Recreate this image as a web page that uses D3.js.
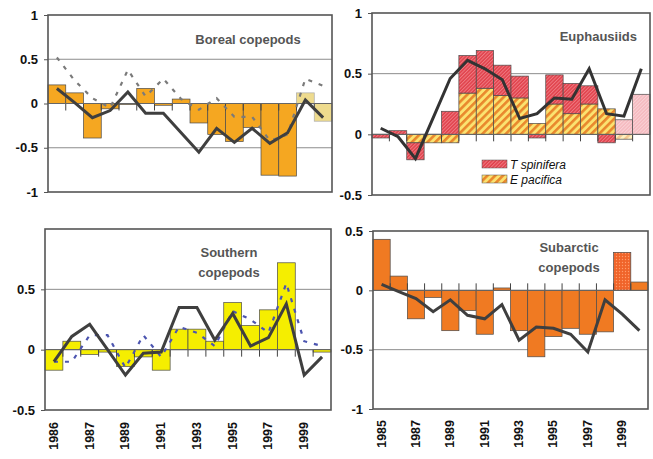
<!DOCTYPE html>
<html>
<head>
<meta charset="utf-8">
<script src="https://cdn.jsdelivr.net/npm/d3@7"></script>
<style>
body{margin:0;background:#fff;}
svg{display:block;font-family:'Liberation Sans',Arial,sans-serif;}
.yaxis text{font-weight:bold;font-size:13px;fill:#111;}
.year{font-weight:bold;font-size:12.5px;fill:#111;}
.title{font-weight:bold;font-size:13px;fill:#555;}
.legend{font-style:italic;font-size:12px;fill:#111;}
</style>
</head>
<body>
<svg width="653" height="459"></svg>
<script>
var years = [1985, 1986, 1987, 1988, 1989, 1990, 1991, 1992, 1993, 1994, 1995, 1996, 1997, 1998, 1999, 2000]

// boreal copepods
var borealBars   = [0.21, 0.12, -0.39, -0.06, -0.01, 0.17, -0.02, 0.05, -0.22, -0.35, -0.43, -0.27, -0.81, -0.82, 0.12, -0.20]
var borealLine   = [0.17, 0.01, -0.16, -0.08, 0.13, -0.11, -0.11, -0.33, -0.55, -0.28, -0.44, -0.28, -0.45, -0.33, 0.04, -0.16]
var borealDashed = [0.52, 0.26, 0.06, -0.05, 0.38, 0.08, 0.28, 0.05, -0.07, 0.06, -0.15, -0.15, -0.42, -0.35, 0.28, 0.20]

// euphausiids
var ePacifica  = [0, 0, -0.07, -0.07, -0.07, 0.34, 0.38, 0.32, 0.30, 0.09, 0.25, 0.17, 0.25, 0.21, -0.04, 0]
var tSpinifera = [-0.03, 0.03, -0.14, 0, 0.19, 0.31, 0.31, 0.25, 0.18, -0.03, 0.24, 0.25, 0.15, -0.07, 0.12, 0.33]
var euphLine   = [0.05, -0.02, -0.20, 0.13, 0.46, 0.61, 0.54, 0.45, 0.13, 0.17, 0.30, 0.29, 0.54, 0.17, 0.15, 0.54]

// southern copepods
var southBars   = [-0.17, 0.07, -0.04, -0.02, -0.14, -0.06, -0.17, 0.17, 0.17, 0.07, 0.39, 0.20, 0.33, 0.72, 0, -0.02]
var southLine   = [-0.10, 0.11, 0.21, 0.00, -0.21, -0.03, -0.02, 0.35, 0.35, 0.08, 0.30, 0.03, 0.10, 0.38, -0.21, -0.06]
var southDashed = [-0.10, -0.10, 0.12, 0.12, -0.15, 0.12, -0.06, 0.19, 0.14, 0.03, 0.32, 0.25, 0.14, 0.55, 0.07, 0.03]

// subarctic copepods
var subBars = [0.43, 0.12, -0.24, -0.06, -0.34, -0.17, -0.37, 0.02, -0.34, -0.56, -0.39, -0.32, -0.37, -0.35, 0.32, 0.07]
var subLine = [0.05, -0.01, -0.07, -0.18, -0.08, -0.21, -0.24, -0.12, -0.42, -0.31, -0.32, -0.37, -0.52, -0.08, -0.20, -0.34]

var labelYears  = [1985, 1987, 1989, 1991, 1993, 1995, 1997, 1999]
var labelsLeft  = ['1986', '1987', '1989', '1991', '1993', '1995', '1997', '1999']
var labelsRight = ['1985', '1987', '1989', '1991', '1993', '1995', '1997', '1999']

var svg = d3.select('svg')
var defs = svg.append('defs')

function stripes(id, bg, fg, w, size){
  var p = defs.append('pattern').attr('id', id).attr('patternUnits', 'userSpaceOnUse')
    .attr('width', size).attr('height', size).attr('patternTransform', 'rotate(45)')
  p.append('rect').attr('width', size).attr('height', size).attr('fill', bg)
  p.append('rect').attr('width', w).attr('height', size).attr('fill', fg)
}
stripes('tspin', '#e0414b', '#ef7a82', 1, 2.5)
stripes('tspinPale', '#f5b9bf', '#f9d2d6', 1, 2.5)
stripes('epac', '#fbe270', '#e9872c', 2.6, 5.5)
stripes('epacPale', '#fdf0c0', '#f3c890', 2.6, 5.5)

var dots = defs.append('pattern').attr('id', 'dots').attr('patternUnits', 'userSpaceOnUse')
  .attr('width', 3).attr('height', 3)
dots.append('rect').attr('width', 3).attr('height', 3).attr('fill', '#f0642a')
dots.append('circle').attr('cx', 1.5).attr('cy', 1.5).attr('r', 0.7).attr('fill', '#ff9b6a')

var late = d => d >= 1999

function panel(o){
  var x = d3.scaleBand().domain(years).range([o.left, o.right])
  var y = d3.scaleLinear().domain(o.domain).range([o.bottom, o.top])
  var cx = (d, i) => x(years[i]) + x.bandwidth()/2
  var g = svg.append('g')

  g.append('g').selectAll('line')
    .data(d3.range(o.domain[0] + 0.5, o.domain[1], 0.5))
    .join('line')
    .attr('x1', o.left).attr('x2', o.right)
    .attr('y1', d => y(d)).attr('y2', d => y(d))
    .attr('stroke', '#8c8c8c').attr('stroke-width', 1)

  // bars (single or stacked)
  o.stacks.forEach(s => {
    g.append('g').selectAll('rect')
      .data(s.values)
      .join('rect')
      .attr('x', (d, i) => x(years[i]))
      .attr('width', x.bandwidth())
      .attr('y', d => y(Math.max(d[0], d[1])))
      .attr('height', d => Math.abs(y(d[0]) - y(d[1])))
      .attr('fill', (d, i) => s.fill(years[i]))
      .attr('stroke', (d, i) => late(years[i]) && o.paleStroke ? '#aaa' : '#4a4a4a')
      .attr('stroke-width', 0.7)
      .attr('display', d => d[0] == d[1] ? 'none' : null)
  })

  // category ticks on the zero line
  g.append('g').selectAll('line')
    .data(years.slice(1))
    .join('line')
    .attr('x1', d => x(d)).attr('x2', d => x(d))
    .attr('y1', y(0)).attr('y2', y(0) + o.tickDir*7)
    .attr('stroke', '#444').attr('stroke-width', 1)
  g.append('line')
    .attr('x1', o.left).attr('x2', o.right)
    .attr('y1', y(0)).attr('y2', y(0))
    .attr('stroke', '#666').attr('stroke-width', 1)

  o.lines.forEach(l => {
    g.append('path')
      .datum(l.values)
      .attr('d', d3.line().x(cx).y(d => y(d)))
      .attr('fill', 'none')
      .attr('stroke', l.color)
      .attr('stroke-width', l.width)
      .attr('stroke-dasharray', l.dash)
      .attr('stroke-linejoin', 'miter')
  })

  g.append('rect')
    .attr('x', o.left).attr('y', o.top)
    .attr('width', o.right - o.left).attr('height', o.bottom - o.top)
    .attr('fill', 'none').attr('stroke', '#555').attr('stroke-width', 1.6)

  var ax = g.append('g').attr('class', 'yaxis')
    .attr('transform', 'translate(' + o.left + ',0)')
    .call(d3.axisLeft(y).tickValues(o.ticks).tickSize(4).tickPadding(6).tickFormat(d => String(d)))
  ax.select('.domain').remove()
  ax.selectAll('.tick line').attr('stroke', '#555')

  g.append('g').selectAll('text')
    .data(labelYears)
    .join('text')
    .attr('class', 'year')
    .attr('transform', d => 'translate(' + (x(d) + x.bandwidth()/2 + 4) + ',' + o.labelTop + ') rotate(-90)')
    .attr('text-anchor', 'end')
    .text((d, i) => o.labels[i])

  o.title.forEach((t, i) => {
    g.append('text').attr('class', 'title')
      .attr('x', o.titleX).attr('y', o.titleY + i*20)
      .attr('text-anchor', o.titleAnchor)
      .text(t)
  })
  return {x, y, g}
}

function single(vals){ return vals.map(v => [0, v]) }

panel({
  left: 48, right: 332, top: 15, bottom: 192, domain: [-1, 1], ticks: [-1, -0.5, 0, 0.5, 1],
  tickDir: 1, labels: [], labelTop: 0, paleStroke: true,
  stacks: [{values: single(borealBars), fill: d => late(d) ? '#eedb8e' : '#f5a721'}],
  lines: [
    {values: borealDashed, color: '#7a7a7a', width: 2.2, dash: '4 7'},
    {values: borealLine, color: '#3f3f3f', width: 3, dash: null}
  ],
  title: ['Boreal copepods'], titleX: 248, titleY: 44, titleAnchor: 'middle'
})

var stacked = d3.stack().keys(['e', 't']).offset(d3.stackOffsetDiverging)(
  years.map((d, i) => ({e: ePacifica[i], t: tSpinifera[i]})))

var tr = panel({
  left: 372, right: 650, top: 13, bottom: 195, domain: [-0.5, 1], ticks: [-0.5, 0, 0.5, 1],
  tickDir: 1, labels: [], labelTop: 0,
  stacks: [
    {values: stacked[0].map(d => [d[0], d[1]]), fill: d => late(d) ? 'url(#epacPale)' : 'url(#epac)'},
    {values: stacked[1].map(d => [d[0], d[1]]), fill: d => late(d) ? 'url(#tspinPale)' : 'url(#tspin)'}
  ],
  lines: [{values: euphLine, color: '#333', width: 3, dash: null}],
  title: ['Euphausiids'], titleX: 637, titleY: 41, titleAnchor: 'end'
})

var legend = tr.g.append('g')
var legendItems = [['T spinifera', 'url(#tspin)'], ['E pacifica', 'url(#epac)']]
legendItems.forEach((d, i) => {
  legend.append('rect').attr('x', 482).attr('y', 160 + i*15).attr('width', 25).attr('height', 8)
    .attr('fill', d[1]).attr('stroke', '#555').attr('stroke-width', 0.5)
  legend.append('text').attr('class', 'legend').attr('x', 510).attr('y', 169 + i*15).text(d[0])
})

panel({
  left: 45, right: 331, top: 229, bottom: 410, domain: [-0.5, 1], ticks: [-0.5, 0, 0.5],
  tickDir: 1, labels: labelsLeft, labelTop: 422,
  stacks: [{values: single(southBars), fill: d => '#f5ee00'}],
  lines: [
    {values: southDashed, color: '#4c55b0', width: 2.2, dash: '4 7'},
    {values: southLine, color: '#3f3f3f', width: 3, dash: null}
  ],
  title: ['Southern', 'copepods'], titleX: 229, titleY: 257, titleAnchor: 'middle'
})

panel({
  left: 373, right: 648, top: 231, bottom: 409, domain: [-1, 0.5], ticks: [-1, -0.5, 0, 0.5],
  tickDir: -1, labels: labelsRight, labelTop: 420,
  stacks: [{values: single(subBars), fill: d => d == 1999 ? 'url(#dots)' : '#f07a22'}],
  lines: [{values: subLine, color: '#3f3f3f', width: 3, dash: null}],
  title: ['Subarctic', 'copepods'], titleX: 569, titleY: 252, titleAnchor: 'middle'
})
</script>
</body>
</html>
